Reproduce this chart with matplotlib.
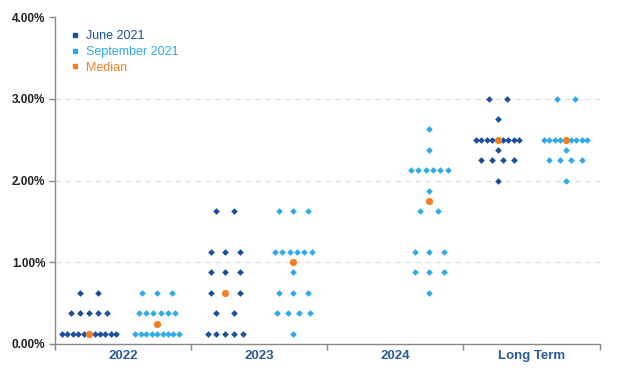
import numpy as np
import matplotlib
matplotlib.use("Agg")
import matplotlib.pyplot as plt
from matplotlib.lines import Line2D

plt.rcParams["font.family"] = ["Liberation Sans", "DejaVu Sans"]

years = ["2022", "2023", "2024", "Long Term"]

# June 2021 projections: rate levels (%) and number of participants at each
jun_2022_rates = [0.125, 0.375, 0.625]
jun_2022_counts = [11, 5, 2]
jun_2023_rates = [0.125, 0.375, 0.625, 0.875, 1.125, 1.625]
jun_2023_counts = [5, 2, 3, 3, 3, 2]
jun_lt_rates = [2.0, 2.25, 2.375, 2.5, 2.75, 3.0]
jun_lt_counts = [1, 4, 1, 9, 1, 2]

# September 2021 projections
sep_2022_rates = [0.125, 0.375, 0.625]
sep_2022_counts = [9, 6, 3]
sep_2023_rates = [0.125, 0.375, 0.625, 0.875, 1.125, 1.625]
sep_2023_counts = [1, 4, 3, 1, 6, 3]
sep_2024_rates = [0.625, 0.875, 1.125, 1.625, 1.875, 2.125, 2.375, 2.625]
sep_2024_counts = [1, 3, 3, 2, 1, 6, 1, 1]
sep_lt_rates = [2.0, 2.25, 2.375, 2.5, 3.0]
sep_lt_counts = [1, 4, 1, 9, 2]

jun_medians = [0.125, 0.625, None, 2.5]
sep_medians = [0.25, 1.0, 1.75, 2.5]

c_jun = "#1a4f9c"
c_sep = "#2eaaea"
c_med = "#f07f26"
c_lab = "#2a5a98"


def dot_row(center, n):
    step = min(0.132, max(0.04, 0.323 / n))
    return center + (np.arange(n) - (n - 1) / 2) * step


def draw_cluster(ax, center, rates, counts, color):
    for r, n in zip(rates, counts):
        xs = dot_row(center, n)
        ax.plot(xs, [r] * n, "D", color=color, markersize=3.4,
                markeredgewidth=0, zorder=3)


fig = plt.figure(figsize=(6.21, 3.69), dpi=100)
ax = fig.add_axes([0.0886, 0.0678, 0.877, 0.886])

off = 0.25
draw_cluster(ax, 0 - off, jun_2022_rates, jun_2022_counts, c_jun)
draw_cluster(ax, 1 - off, jun_2023_rates, jun_2023_counts, c_jun)
draw_cluster(ax, 3 - off, jun_lt_rates, jun_lt_counts, c_jun)
draw_cluster(ax, 0 + off, sep_2022_rates, sep_2022_counts, c_sep)
draw_cluster(ax, 1 + off, sep_2023_rates, sep_2023_counts, c_sep)
draw_cluster(ax, 2 + off, sep_2024_rates, sep_2024_counts, c_sep)
draw_cluster(ax, 3 + off, sep_lt_rates, sep_lt_counts, c_sep)

for i, m in enumerate(jun_medians):
    if m is not None:
        ax.plot(i - off, m, "o", color=c_med, markersize=5.2, markeredgewidth=0, zorder=4)
for i, m in enumerate(sep_medians):
    ax.plot(i + off, m, "o", color=c_med, markersize=5.2, markeredgewidth=0, zorder=4)

ax.set_xlim(-0.5, 3.5)
ax.set_ylim(0, 4)
ax.set_yticks([0, 1, 2, 3, 4])
ax.set_yticklabels([f"{v:.2f}%" for v in [0, 1, 2, 3, 4]],
                   fontsize=8.5, fontweight="bold", color="#222222")
ax.set_xticks(range(len(years)))
ax.set_xticklabels(years, fontsize=9.5, fontweight="bold", color=c_lab)
ax.set_xticks([-0.5, 0.5, 1.5, 2.5, 3.5], minor=True)
ax.tick_params(axis="x", which="major", length=0, pad=4)
ax.tick_params(axis="x", which="minor", length=4, color="#888888", width=1)
ax.tick_params(axis="y", length=4, color="#888888", width=1, pad=3)

for y in [1, 2, 3]:
    ax.axhline(y, color="#dddddd", linewidth=0.8, linestyle=(0, (5, 4)), zorder=1)

for s in ["top", "right"]:
    ax.spines[s].set_visible(False)
for s in ["left", "bottom"]:
    ax.spines[s].set_color("#888888")
    ax.spines[s].set_linewidth(1)

handles = [
    Line2D([], [], marker="s", linestyle="", color=c_jun, markersize=2.5),
    Line2D([], [], marker="s", linestyle="", color=c_sep, markersize=2.5),
    Line2D([], [], marker="s", linestyle="", color=c_med, markersize=2.5),
]
leg = ax.legend(handles, ["June 2021", "September 2021", "Median"],
                loc="upper left", bbox_to_anchor=(0.02, 0.975), frameon=False,
                fontsize=9, handlelength=0.6, handletextpad=0.6,
                labelspacing=0.3, borderaxespad=0)
for t, c in zip(leg.get_texts(), [c_jun, c_sep, c_med]):
    t.set_color(c)

fig.savefig("out.png", dpi=100)
